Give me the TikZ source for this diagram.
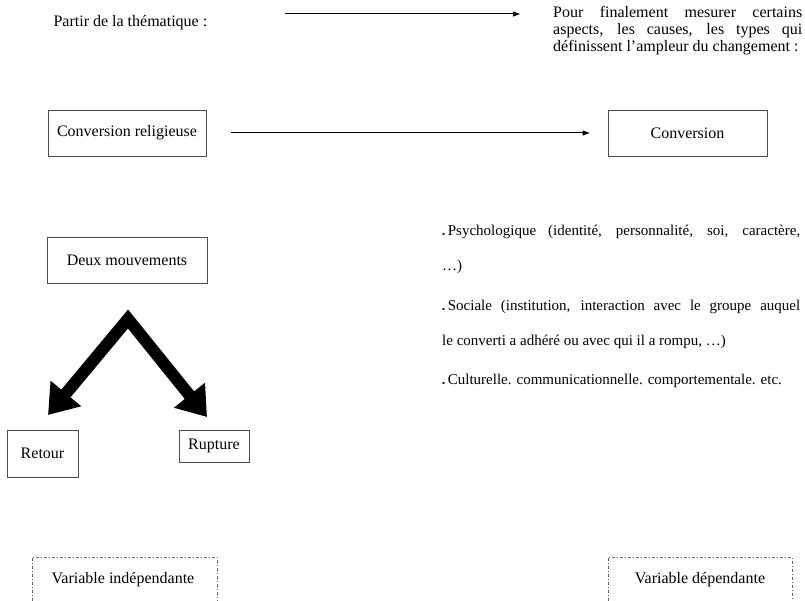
\documentclass[tikz,border=0pt]{standalone}
\usepackage{fontspec}
\setmainfont{Liberation Serif}
\usetikzlibrary{arrows.meta}

\newcommand{\puce}{\raisebox{-1.5pt}{\small\textbullet}\,}

\begin{document}
\begin{tikzpicture}[x=1pt,y=-1pt,
	every node/.style={font=\fontsize{16}{17}\selectfont},
	boite/.style={draw=black!70, line width=0.7pt, inner sep=0pt},
	fleche/.style={-{Triangle[length=7pt,width=5pt]}, line width=1pt},
	grosse/.style={{Triangle[length=28pt,width=38pt]}-{Triangle[length=28pt,width=38pt]}, line width=12pt, line join=miter},
	pointille/.style={draw=black!60, line width=0.7pt, dash pattern=on 3pt off 2pt on 1pt off 2pt}]

	\useasboundingbox (0,0) rectangle (805,601);

	% en haut
	\node[anchor=west] (partir) at (50,23) {Partir de la thématique :};
	\node[anchor=north west, text width=249pt, align=justify, inner sep=0pt] (mesure) at (553,6) {Pour finalement mesurer certains\linebreak aspects, les causes, les types qui\linebreak \mbox{définissent l’ampleur du changement :}};
	\coordinate (depart) at (285,14);
	\coordinate (arrivee) at (520,14);
	\draw[fleche] (depart) -- (arrivee);

	\node[boite, minimum width=158pt, minimum height=46pt] (convrel) at (127,133) {Conversion religieuse};
	\node[boite, minimum width=159pt, minimum height=46pt] (conv) at (687.5,133) {Conversion};
	\draw[fleche, shorten <=25pt, shorten >=18pt] (convrel) -- (conv);

	% les deux mouvements
	\node[boite, minimum width=160pt, minimum height=46pt] (deux) at (127,260) {Deux mouvements};
	\node[boite, minimum width=71pt, minimum height=47pt] (retour) at (42.5,453.5) {Retour};
	\node[boite, minimum width=70pt, minimum height=32pt] (rupture) at (214,446) {Rupture};

	\coordinate (sommet) at (128,319);
	\coordinate (pointeG) at (48,415);
	\coordinate (pointeD) at (207,417);
	\draw[grosse] (pointeG) -- (sommet) -- (pointeD);

	\node[anchor=north west, text width=358pt, align=justify, inner sep=0pt, font=\fontsize{15}{35}\selectfont] (effets) at (442,225) {\puce Psychologique (identité, personnalité, soi, caractère,\linebreak\ …)\\[5pt]
	\puce Sociale (institution, interaction avec le groupe auquel\linebreak le converti a adhéré ou avec qui il a rompu, …)\\[4pt]
	\mbox{\puce Culturelle. communicationnelle. comportementale. etc.}};

	% variables
	\node (indep) at (123,580) {Variable indépendante};
	\node (dep) at (700,580) {Variable dépendante};
	\draw[pointille] (32,601) |- (217,557) -- (217,601);
	\draw[pointille] (608,601) |- (792,557) -- (792,601);
\end{tikzpicture}
\end{document}
